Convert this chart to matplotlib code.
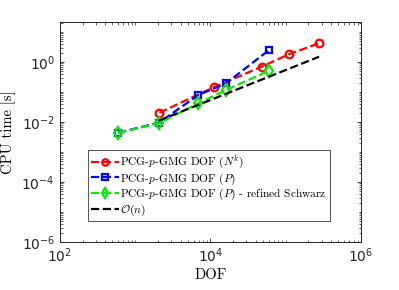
import matplotlib
matplotlib.use("Agg")
import matplotlib.pyplot as plt
from matplotlib.font_manager import FontProperties
from matplotlib.ticker import LogLocator, NullFormatter

red_x = [2100, 11000, 48000, 112000, 277000]
red_y = [0.0204, 0.143, 0.70, 1.85, 4.2]
blue_x = [596, 2070, 6890, 16100, 59900]
blue_y = [0.0044, 0.0095, 0.079, 0.195, 2.5]
green_x = [596, 2070, 6890, 16100, 59900]
green_y = [0.0044, 0.0091, 0.042, 0.117, 0.51]
black_x = [2070, 277000]
black_y = [0.0112, 1.5]

labels = [r"PCG-$p$-GMG DOF $(N^k)$",
          r"PCG-$p$-GMG DOF $(P)$",
          r"PCG-$p$-GMG DOF $(P)$ - refined Schwarz",
          r"$\mathcal{O}(n)$"]

fig = plt.figure(figsize=(3.99, 2.9), dpi=100)
ax = fig.add_axes([0.150, 0.1655, 0.755, 0.7585])

ax.plot(red_x, red_y, '--', color='red', lw=1.6, marker='o', ms=5.5, mfc='none', mew=1.6, label=labels[0])
ax.plot(blue_x, blue_y, '--', color='blue', lw=1.6, marker='s', ms=5, mfc='none', mew=1.6, label=labels[1])
ax.plot(green_x, green_y, '--', color='#00ee00', lw=1.6, marker='d', ms=6, mfc='none', mew=1.6, label=labels[2])
ax.plot(black_x, black_y, '--', color='black', lw=1.6, label=labels[3])

ax.set_xscale('log')
ax.set_yscale('log')
ax.set_xlim(1e2, 1e6)
ax.set_ylim(1e-6, 21.5)
ax.set_xticks([1e2, 1e4, 1e6])
ax.set_yticks([1e-6, 1e-4, 1e-2, 1e0])
ax.xaxis.set_minor_locator(LogLocator(base=10, subs=[1, 2, 3, 4, 5, 6, 7, 8, 9], numticks=20))
ax.yaxis.set_minor_locator(LogLocator(base=10, subs=[1, 2, 3, 4, 5, 6, 7, 8, 9], numticks=20))
ax.xaxis.set_minor_formatter(NullFormatter())
ax.yaxis.set_minor_formatter(NullFormatter())
ax.tick_params(which='both', direction='in', top=True, right=True, labelsize=10, colors='#262626')
ax.tick_params(which='major', length=3, width=0.6)
ax.tick_params(which='minor', length=1.8, width=0.5)
for s in ax.spines.values():
    s.set_linewidth(0.7)
    s.set_color('#262626')

ax.set_xlabel("DOF", family='cmr10', fontsize=10.5, labelpad=2)
ax.set_ylabel("CPU time [s]", family='cmr10', fontsize=10.5, labelpad=4)

prop = FontProperties(family='cmr10', size=8.2, math_fontfamily='cm')
leg = ax.legend(loc='lower left', bbox_to_anchor=(0.093, 0.095), borderaxespad=0,
                prop=prop, handlelength=2.4, handletextpad=0.1, labelspacing=0.02,
                markerscale=0.85, frameon=True, fancybox=False, edgecolor='#262626',
                borderpad=0.3)
leg.get_frame().set_linewidth(0.7)

fig.savefig("out.png", dpi=100)
